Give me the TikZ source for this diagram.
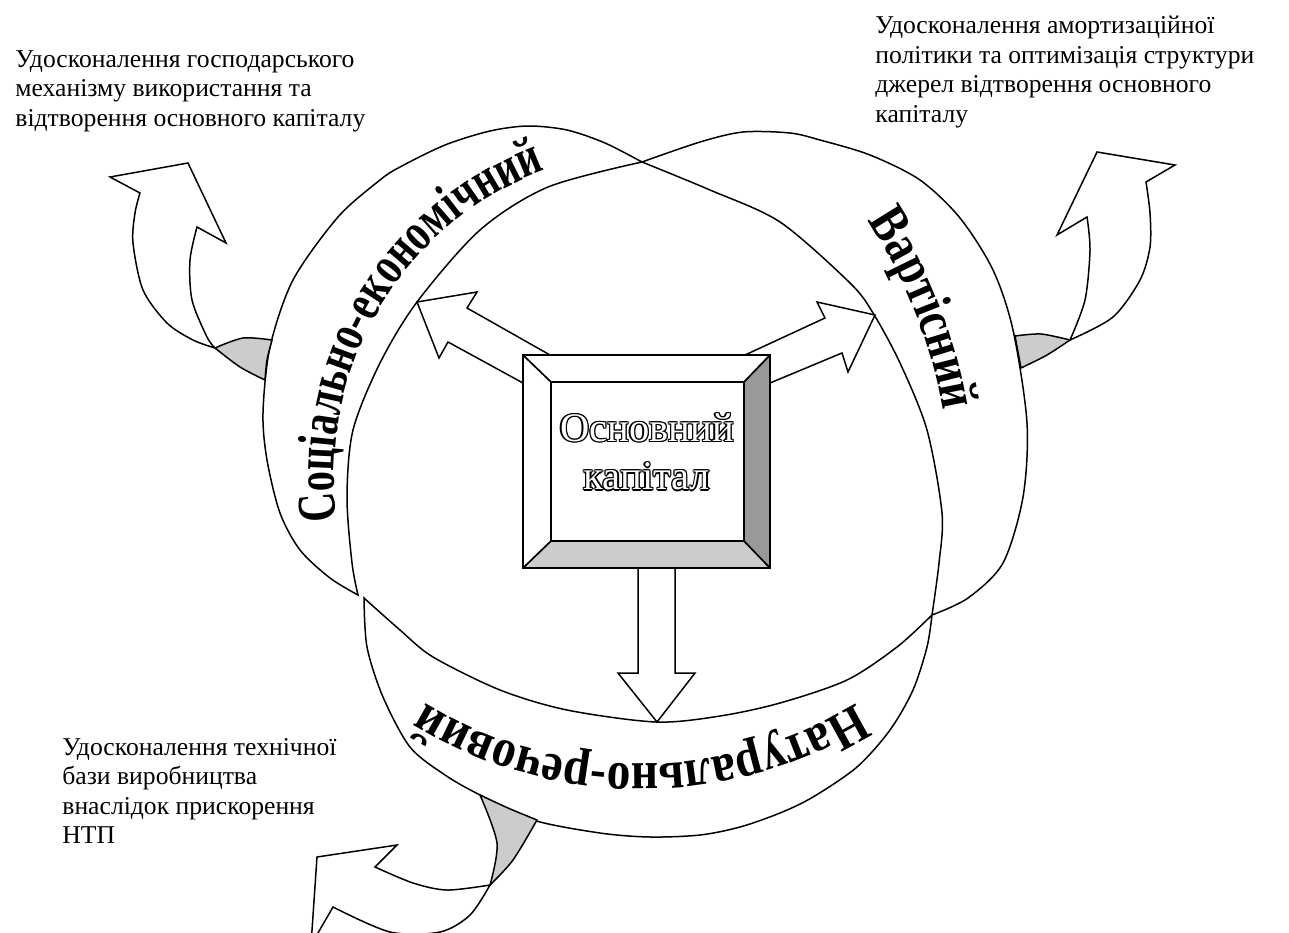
\documentclass[tikz,border=0pt]{standalone}
\usepackage{fontspec}
\setmainfont{Liberation Serif}
\newfontfamily\bandL{Liberation Serif}[UprightFont={* Bold},BoldFont={* Bold},FakeStretch=0.74]
\newfontfamily\bandR{Liberation Serif}[UprightFont={* Bold},BoldFont={* Bold},FakeStretch=0.81]
\newfontfamily\bandB{Liberation Serif}[UprightFont={* Bold},BoldFont={* Bold},FakeStretch=0.87]
\usetikzlibrary{decorations.text}
\definecolor{foldgray}{gray}{0.8}
\definecolor{bevdark}{gray}{0.6}
\definecolor{bevlight}{gray}{0.8}
\begin{document}
\begin{tikzpicture}[x=0.468pt,y=-0.468pt]
\tikzset{
  bandshape/.style={draw=black,fill=white,line width=0.7pt},
  foldshape/.style={draw=black,fill=foldgray,line width=0.7pt},
  blockarrow/.style={draw=black,fill=white,line width=0.7pt,line join=miter},
  boxline/.style={draw=black,line width=0.8pt},
  notetext/.style={font=\fontsize{12pt}{13.8pt}\selectfont,align=left,inner sep=0pt,anchor=north west},
  coretext/.style={font=\fontsize{19pt}{22.5pt}\selectfont,align=center,inner sep=0pt},
}
\useasboundingbox (0,0) rectangle (1289,932);

% ---- bands (crescents)
\draw[bandshape] plot[smooth] coordinates {(358,595) (330,578) (300,550) (280,513) (267,460) (263,413) (270,347) (293,280) (338,217) (380,180) (400,167) (445,145) (490,131) (528,126) (567,130) (605,143) (642,162)}
  -- plot[smooth] coordinates {(642,162) (548,187) (480,230) (417,302) (380,363) (353,430) (347,497) (352,563) (358,595)} -- cycle;
\draw[bandshape] plot[smooth] coordinates {(642,162) (700,142) (743,132) (790,133) (820,140) (870,155) (920,180) (960,218) (993,270) (1013,330) (1027,423) (1023,497) (1003,563) (968,598) (932,615)}
  -- plot[smooth] coordinates {(932,615) (939,563) (942,513) (927,430) (900,363) (873,313) (850,283) (780,222) (710,190) (642,162)} -- cycle;
\draw[bandshape] plot[smooth] coordinates {(364,598) (400,630) (433,657) (500,690) (567,710) (656,722) (720,716) (780,703) (847,680) (897,647) (932,615)}
  -- plot[smooth] coordinates {(932,615) (927,647) (913,690) (890,730) (857,767) (813,797) (780,813) (740,827) (700,835) (650,837) (600,833) (533,820) (480,795) (445,775) (410,747) (383,697) (367,647) (364,598)} -- cycle;

% ---- band texts
\path[decorate,decoration={text along path,text align=left,
  text={|\bandL\fontsize{25.5pt}{25.5pt}\selectfont|Соціально-економічний}}]
  (660,475) ++(172:326) arc[start angle=172,end angle=285,radius=326];
\path[decorate,decoration={text along path,text align=left,
  text={|\bandR\fontsize{25.5pt}{25.5pt}\selectfont|Вартісний}}]
  (455,494) ++(-33.5:495) arc[start angle=-33.5,end angle=5,radius=495];
\path[decorate,decoration={text along path,text align=left,
  text={|\bandB\fontsize{25.5pt}{25.5pt}\selectfont|Натурально-речовий}}]
  (641,350) ++(58.6:414) arc[start angle=58.6,end angle=135,radius=414];

% ---- central block arrows
\draw[blockarrow] (550,355) -- (467,308) -- (477,292) -- (417,302) -- (439,358) -- (448,342) -- (523,383) -- cycle;
\draw[blockarrow] (745,355) -- (825,318) -- (817,302) -- (875,315) -- (848,372) -- (842,353) -- (770,383) -- cycle;
\draw[blockarrow] (638,568) -- (638,673) -- (618,673) -- (657,722) -- (695,673) -- (675,673) -- (675,568) -- cycle;

% ---- outer curved arrows with folds
\draw[foldshape] plot[smooth] coordinates {(272,340) (243,338) (215,348)} -- plot[smooth] coordinates {(215,348) (240,367) (265,380)} -- plot[smooth] coordinates {(265,380) (267,360) (272,340)} -- cycle;
\draw[blockarrow] plot[smooth] coordinates {(215,348) (193,340) (167,323) (143,290) (133,243) (135,213) (140,193)} -- (110,177) -- (188,163) -- (226,243) -- (197,227) -- plot[smooth] coordinates {(197,227) (190,260) (192,300) (207,337) (215,348)} -- cycle;

\draw[foldshape] plot[smooth] coordinates {(1015,336) (1041,334) (1070,340)} -- plot[smooth] coordinates {(1070,340) (1047,355) (1021,368)} -- plot[smooth] coordinates {(1021,368) (1018,352) (1015,336)} -- cycle;
\draw[blockarrow] plot[smooth] coordinates {(1070,340) (1085,300) (1090,250) (1087,217)} -- (1057,235) -- (1097,152) -- (1175,165) -- (1146,182) -- plot[smooth] coordinates {(1146,182) (1150,213) (1150,247) (1140,280) (1113,317) (1070,340)} -- cycle;

\draw[foldshape] plot[smooth] coordinates {(480,795) (497,843) (490,885)} -- plot[smooth] coordinates {(490,885) (513,860) (537,820)} -- plot[smooth] coordinates {(537,820) (508,808) (480,795)} -- cycle;
\draw[blockarrow] plot[smooth] coordinates {(490,885) (447,890) (413,883) (375,867)} -- (397,845) -- (317,857) -- (311,945) -- (333,907) -- plot[smooth] coordinates {(333,907) (390,932) (440,932) (470,915) (490,885)} -- cycle;

% ---- central beveled box
\fill[white] (523,355) rectangle (770,568);
\fill[bevdark] (770,355) -- (744,382) -- (744,541) -- (770,568) -- cycle;
\fill[bevlight] (523,568) -- (551,541) -- (744,541) -- (770,568) -- cycle;
\draw[boxline] (523,355) rectangle (770,568);
\draw[boxline] (551,382) rectangle (744,541);
\draw[boxline] (523,355) -- (551,382) (770,355) -- (744,382) (523,568) -- (551,541) (770,568) -- (744,541);
\foreach \ang [count=\k] in {0,45,...,315}
  \node[coretext,shift={(\ang:0.6pt)}] (coreshadow\k) at (647,452) {Основний\\капітал};
\node[coretext,text=white] (core) at (647,452) {Основний\\капітал};

% ---- notes
\node[notetext] (noteleft) at (15,50) {Удосконалення господарського\\механізму використання та\\відтворення основного капіталу};
\node[notetext] (noteright) at (875,16) {Удосконалення амортизаційної\\політики та оптимізація структури\\джерел відтворення основного\\капіталу};
\node[notetext] (notebottom) at (62,738) {Удосконалення технічної\\бази виробництва\\внаслідок прискорення\\НТП};
\end{tikzpicture}
\end{document}
